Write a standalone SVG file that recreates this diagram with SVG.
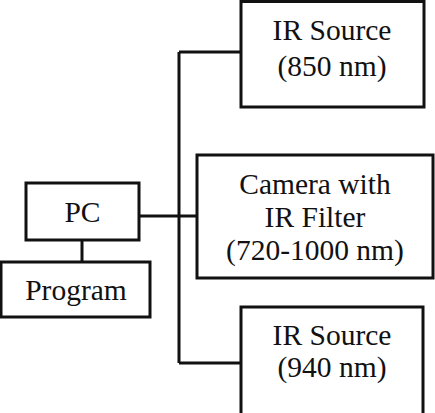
<svg xmlns="http://www.w3.org/2000/svg" width="435" height="413" viewBox="0 0 435 413">
<style>
.box{fill:#fff;stroke:#111;stroke-width:3}
.t{font-family:"Liberation Serif","Times New Roman",serif;font-size:29.5px;fill:#111;text-anchor:middle}
.c{stroke:#111;stroke-width:3;fill:none}
</style>
<rect width="435" height="413" fill="#fff"/>
<g id="connectors">
<line class="c" x1="179" y1="52" x2="179" y2="363"/>
<line class="c" x1="179" y1="52" x2="241" y2="52"/>
<line class="c" x1="179" y1="363" x2="241" y2="363"/>
<line class="c" x1="139" y1="216" x2="197" y2="216"/>
<line class="c" x1="82" y1="240" x2="82" y2="262"/>
</g>
<g id="ir850">
<rect class="box" x="241" y="1.5" width="183" height="105.5"/>
<text class="t" x="332" y="40">IR Source</text>
<text class="t" x="332" y="76">(850 nm)</text>
</g>
<g id="camera">
<rect class="box" x="197" y="155" width="236" height="123"/>
<text class="t" x="315" y="194">Camera with</text>
<text class="t" x="315" y="227">IR Filter</text>
<text class="t" x="315" y="260">(720-1000 nm)</text>
</g>
<g id="ir940">
<rect class="box" x="241" y="307" width="182" height="110"/>
<text class="t" x="332" y="345">IR Source</text>
<text class="t" x="332" y="377">(940 nm)</text>
</g>
<g id="pc">
<rect class="box" x="26" y="183" width="113" height="57"/>
<text class="t" x="82.5" y="222">PC</text>
</g>
<g id="program">
<rect class="box" x="1" y="262" width="149" height="55"/>
<text class="t" x="76" y="300">Program</text>
</g>
</svg>
